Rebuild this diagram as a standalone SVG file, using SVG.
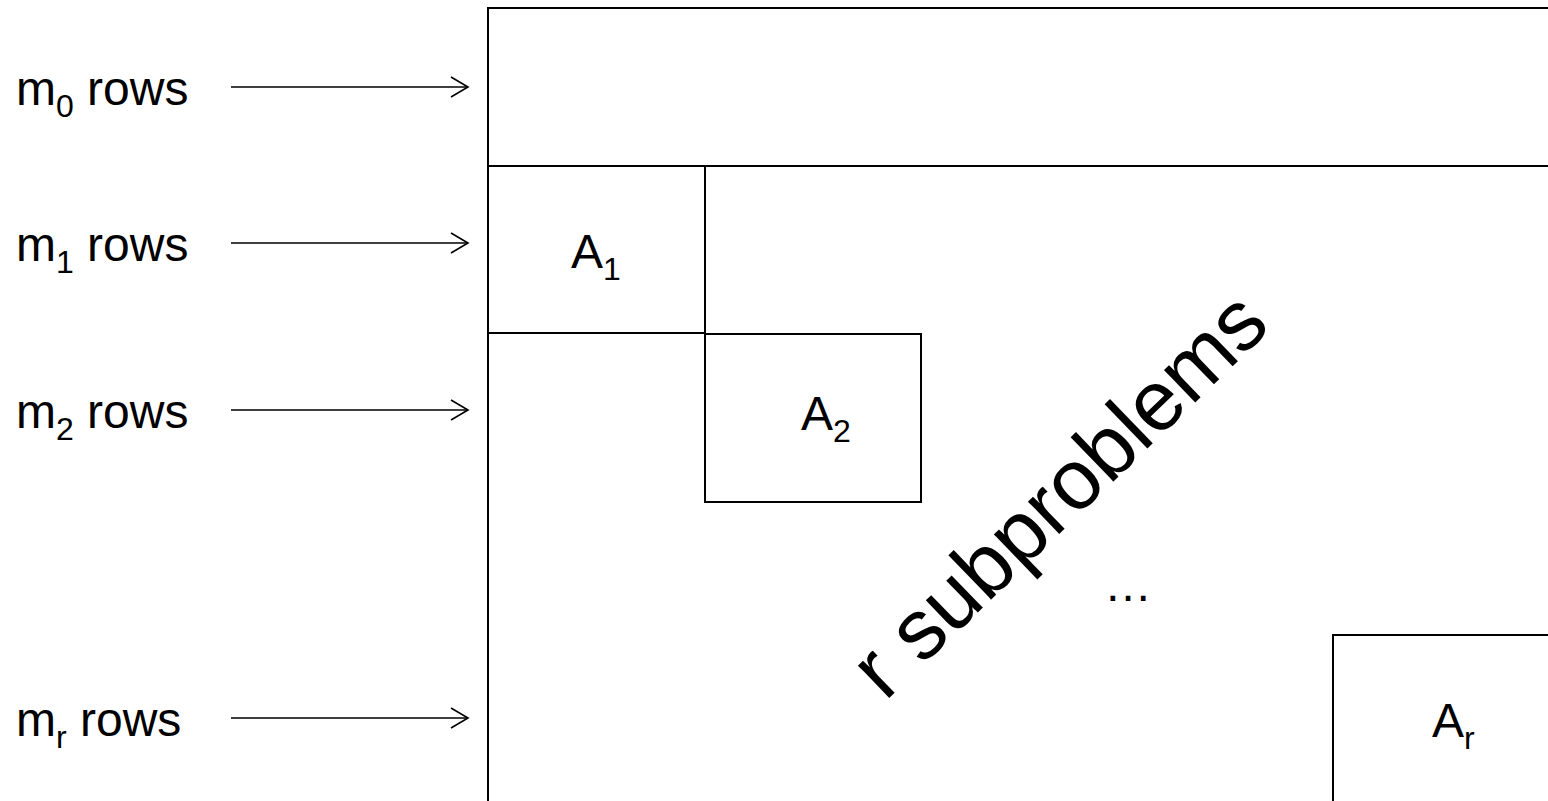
<svg xmlns="http://www.w3.org/2000/svg" width="1548" height="801" viewBox="0 0 1548 801">
<style>
.t{font-family:"Liberation Sans",Arial,sans-serif;font-size:48px;fill:#000}
.s{font-size:32px}
.ln{stroke:#000;stroke-width:2;fill:none}
.ar{stroke:#000;stroke-width:1.6;fill:none}
</style>
<defs>
<marker id="open" markerWidth="22" markerHeight="24" refX="18" refY="11" orient="auto" markerUnits="userSpaceOnUse">
<path d="M1,1 L18,11 L1,21" class="ar"/>
</marker>
</defs>
<rect width="1548" height="801" fill="#fff"/>
<g id="matrix">
<path class="ln" d="M488,801 V8 H1560"/>
<path class="ln" d="M488,166 H1560"/>
</g>
<g id="A1">
<path class="ln" d="M488,333 H705 V166"/>
<text class="t" x="571" y="268">A<tspan class="s" dy="12">1</tspan></text>
</g>
<g id="A2">
<rect class="ln" x="705" y="334" width="216" height="168"/>
<text class="t" x="801" y="430">A<tspan class="s" dy="12">2</tspan></text>
</g>
<g id="Ar">
<path class="ln" d="M1333,801 V635 H1560"/>
<text class="t" x="1432" y="737">A<tspan class="s" dy="12">r</tspan></text>
</g>
<g id="labels">
<text class="t" x="16" y="105">m<tspan class="s" dy="12">0</tspan><tspan dy="-12"> rows</tspan></text>
<text class="t" x="16" y="261">m<tspan class="s" dy="12">1</tspan><tspan dy="-12"> rows</tspan></text>
<text class="t" x="16" y="428">m<tspan class="s" dy="12">2</tspan><tspan dy="-12"> rows</tspan></text>
<text class="t" x="16" y="736">m<tspan class="s" dy="12">r</tspan><tspan dy="-12"> rows</tspan></text>
<text class="t" x="1104" y="601">…</text>
<text class="t" style="font-size:85px" transform="translate(885,702) rotate(-44)">r subproblems</text>
</g>
<g id="connectors">
<line class="ar" x1="231" y1="87" x2="468" y2="87" marker-end="url(#open)"/>
<line class="ar" x1="231" y1="243" x2="468" y2="243" marker-end="url(#open)"/>
<line class="ar" x1="231" y1="410" x2="468" y2="410" marker-end="url(#open)"/>
<line class="ar" x1="231" y1="718" x2="468" y2="718" marker-end="url(#open)"/>
</g>
</svg>
